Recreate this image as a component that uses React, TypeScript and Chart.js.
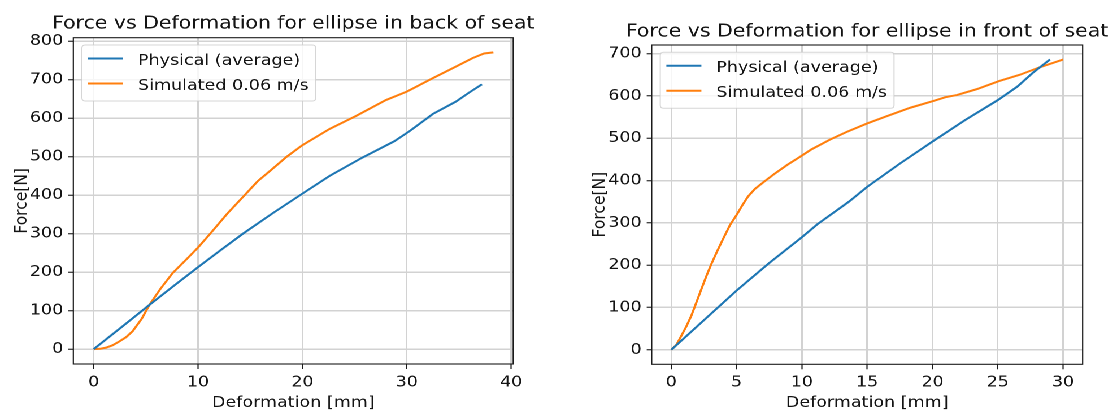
import React, { useEffect, useRef } from "react";
import { Chart, registerables } from "chart.js";

Chart.register(...registerables);

// ---- Data: back-of-seat ellipse ----
const backPhysicalDeform = [0, 2.7, 5.34, 7.7, 10, 12.2, 14.3, 17.2, 20, 22.6, 25.7, 28.8, 30.25, 32.5, 34.7, 36, 37.2];
const backPhysicalForce = [0, 58, 115, 165, 213, 258, 300, 354, 404, 450, 497, 540, 566, 611, 643, 667, 688];
const backSimDeform = [0, 0.6, 1.18, 1.8, 2.46, 3.1, 3.74, 4.6, 5.34, 6.4, 7.57, 8.8, 10, 11.1, 12.8, 14.6, 15.7, 16.9, 18.5, 20, 22.6, 25.15, 28, 30, 32.5, 34.7, 36.3, 37.4, 38.3];
const backSimForce = [0, 1, 4, 10, 20, 31, 47, 79, 115, 157, 198, 231, 264, 298, 352, 404, 436, 463, 500, 530, 572, 606, 647, 669, 704, 734, 756, 768, 771];

// ---- Data: front-of-seat ellipse ----
const frontPhysicalDeform = [0, 2.5, 5, 7.5, 10, 11.2, 13.6, 15, 17.5, 20, 22.5, 25, 26.5, 27.7, 29];
const frontPhysicalForce = [0, 70, 140, 205, 266, 297, 350, 385, 440, 492, 543, 590, 622, 655, 686];
const frontSimDeform = [0, 0.4, 0.77, 1.15, 1.53, 1.9, 2.3, 2.7, 3.06, 3.5, 3.95, 4.5, 5.03, 5.45, 5.87, 6.4, 7.14, 8, 8.93, 9.8, 10.7, 12.17, 13.44, 15, 16.5, 18.3, 20.08, 21, 21.86, 23.4, 25.1, 26.7, 28.24, 30];
const frontSimForce = [0, 12, 33, 55, 80, 110, 143, 175, 202, 232, 261, 295, 320, 342, 362, 380, 398, 418, 438, 455, 473, 497, 515, 535, 552, 572, 588, 597, 602, 616, 635, 650, 668, 686];

// ---- Labels and ticks ----
const seriesLabels = ["Physical (average)", "Simulated 0.06 m/s"];
const seriesColors = ["#1f77b4", "#ff7f0e"];
const xAxisLabel = "Deformation [mm]";
const yAxisLabel = "Force[N]";
const backTitle = "Force vs Deformation for ellipse in back of seat";
const frontTitle = "Force vs Deformation for ellipse in front of seat";
const backXTicks = [0, 10, 20, 30, 40];
const backYTicks = [0, 100, 200, 300, 400, 500, 600, 700, 800];
const frontXTicks = [0, 5, 10, 15, 20, 25, 30];
const frontYTicks = [0, 100, 200, 300, 400, 500, 600, 700];

const FONT = "'DejaVu Sans', 'Liberation Sans', sans-serif";
const BASE = 15.5;
const TITLE_SIZE = 18.1;
const TEXT = "#141414";
const STRETCH = 1.13;
const HEIGHT = 412;

type Panel = {
  title: string;
  width: number;
  plotLeft: number;
  plotRight: number;
  plotTop: number;
  plotBottom: number;
  titleBaseline: number;
  xMin: number;
  xMax: number;
  yMin: number;
  yMax: number;
  xTicks: number[];
  yTicks: number[];
  physX: number[];
  physY: number[];
  simX: number[];
  simY: number[];
};

const backPanel: Panel = {
  title: backTitle,
  width: 497,
  plotLeft: 64.9,
  plotRight: 454.2,
  plotTop: 37.7,
  plotBottom: 364,
  titleBaseline: 28.3,
  xMin: -1.95,
  xMax: 40.2,
  yMin: -38.5,
  yMax: 809,
  xTicks: backXTicks,
  yTicks: backYTicks,
  physX: backPhysicalDeform,
  physY: backPhysicalForce,
  simX: backSimDeform,
  simY: backSimForce,
};

const frontPanel: Panel = {
  title: frontTitle,
  width: 485,
  plotLeft: 79.7,
  plotRight: 461.1,
  plotTop: 45,
  plotBottom: 364.3,
  titleBaseline: 36.7,
  xMin: -1.5,
  xMax: 31.5,
  yMin: -34.3,
  yMax: 720.3,
  xTicks: frontXTicks,
  yTicks: frontYTicks,
  physX: frontPhysicalDeform,
  physY: frontPhysicalForce,
  simX: frontSimDeform,
  simY: frontSimForce,
};

const zip = (xs: number[], ys: number[]) => xs.map((x, i) => ({ x, y: ys[i] }));

function roundRect(ctx: CanvasRenderingContext2D, x: number, y: number, w: number, h: number, r: number) {
  ctx.beginPath();
  ctx.moveTo(x + r, y);
  ctx.lineTo(x + w - r, y);
  ctx.quadraticCurveTo(x + w, y, x + w, y + r);
  ctx.lineTo(x + w, y + h - r);
  ctx.quadraticCurveTo(x + w, y + h, x + w - r, y + h);
  ctx.lineTo(x + r, y + h);
  ctx.quadraticCurveTo(x, y + h, x, y + h - r);
  ctx.lineTo(x, y + r);
  ctx.quadraticCurveTo(x, y, x + r, y);
  ctx.closePath();
}

// Frame, title, axis titles and the upper-left legend box
const decorations = (panel: Panel) => ({
  id: "decorations",
  afterDraw(chart: Chart) {
    const { ctx, chartArea: a } = chart;
    ctx.save();

    ctx.strokeStyle = "#1a1a1a";
    ctx.lineWidth = 1.1;
    ctx.strokeRect(a.left, a.top, a.right - a.left, a.bottom - a.top);

    ctx.fillStyle = TEXT;
    ctx.textAlign = "center";
    ctx.textBaseline = "alphabetic";
    ctx.font = `${TITLE_SIZE}px ${FONT}`;
    ctx.fillText(panel.title, (a.left + a.right) / 2, panel.titleBaseline);

    ctx.font = `${BASE}px ${FONT}`;
    ctx.fillText(xAxisLabel, (a.left + a.right) / 2, 407);

    ctx.save();
    ctx.translate(a.left - 41.6, (a.top + a.bottom) / 2);
    ctx.rotate(-Math.PI / 2);
    ctx.fillText(yAxisLabel, 0, 0);
    ctx.restore();

    // legend
    const pad = BASE * 0.4;
    const handle = BASE * 2;
    const gap = BASE * 0.8;
    const textW = Math.max(...seriesLabels.map((s) => ctx.measureText(s).width));
    const bx = a.left + 7.6;
    const by = a.top + 7.3;
    const bw = pad + handle + gap + textW + pad;
    const bh = 56;
    roundRect(ctx, bx, by, bw, bh, 3);
    ctx.fillStyle = "rgba(255,255,255,0.8)";
    ctx.fill();
    ctx.strokeStyle = "rgba(204,204,204,0.8)";
    ctx.lineWidth = 1;
    ctx.stroke();

    const rows = [by + 13.5, by + 38.5];
    seriesLabels.forEach((label, i) => {
      ctx.strokeStyle = seriesColors[i];
      ctx.lineWidth = 2;
      ctx.beginPath();
      ctx.moveTo(bx + pad - 0.8, rows[i]);
      ctx.lineTo(bx + pad - 0.8 + handle, rows[i]);
      ctx.stroke();
      ctx.fillStyle = TEXT;
      ctx.textAlign = "left";
      ctx.fillText(label, bx + pad + handle + gap, rows[i] + 6.3);
    });

    ctx.restore();
  },
});

function PanelChart({ panel }: { panel: Panel }) {
  const ref = useRef<HTMLCanvasElement | null>(null);

  useEffect(() => {
    if (!ref.current) return;
    const gridColor = "#d2d2d2";
    const tickFont = { family: FONT, size: BASE };
    const chart = new Chart(ref.current, {
      type: "scatter",
      data: {
        datasets: [
          {
            label: seriesLabels[0],
            data: zip(panel.physX, panel.physY),
            showLine: true,
            borderColor: seriesColors[0],
            backgroundColor: seriesColors[0],
            borderWidth: 2,
            pointRadius: 0,
            tension: 0,
          },
          {
            label: seriesLabels[1],
            data: zip(panel.simX, panel.simY),
            showLine: true,
            borderColor: seriesColors[1],
            backgroundColor: seriesColors[1],
            borderWidth: 2,
            pointRadius: 0,
            tension: 0,
          },
        ],
      },
      options: {
        animation: false,
        responsive: false,
        devicePixelRatio: 2,
        events: [],
        layout: {
          padding: { left: 0, top: panel.plotTop, right: panel.width - panel.plotRight, bottom: 0 },
        },
        plugins: {
          legend: { display: false },
          title: { display: false },
          tooltip: { enabled: false },
        },
        scales: {
          x: {
            type: "linear",
            min: panel.xMin,
            max: panel.xMax,
            afterBuildTicks: (s: any) => {
              s.ticks = panel.xTicks.map((v) => ({ value: v }));
            },
            afterFit: (s: any) => {
              s.height = HEIGHT - panel.plotBottom;
            },
            border: { display: false },
            grid: {
              color: gridColor,
              lineWidth: 1.5,
              drawTicks: true,
              tickLength: 5,
              tickColor: "#1a1a1a",
              tickWidth: 1.1,
            },
            ticks: { font: tickFont, color: TEXT, padding: 4, maxRotation: 0, autoSkip: false },
          },
          y: {
            type: "linear",
            min: panel.yMin,
            max: panel.yMax,
            afterBuildTicks: (s: any) => {
              s.ticks = panel.yTicks.map((v) => ({ value: v }));
            },
            afterFit: (s: any) => {
              s.width = panel.plotLeft;
            },
            border: { display: false },
            grid: {
              color: gridColor,
              lineWidth: 1.5,
              drawTicks: true,
              tickLength: 4.4,
              tickColor: "#1a1a1a",
              tickWidth: 1.1,
            },
            ticks: { font: tickFont, color: TEXT, padding: 4.5, autoSkip: false },
          },
        },
      },
      plugins: [decorations(panel)],
    });
    return () => chart.destroy();
  }, [panel]);

  return (
    <div style={{ width: panel.width, height: HEIGHT, flex: "none" }}>
      <canvas ref={ref} width={panel.width} height={HEIGHT} style={{ display: "block" }} />
    </div>
  );
}

export default function App() {
  return (
    <div
      style={{
        position: "absolute",
        left: 0,
        top: 0,
        width: backPanel.width + frontPanel.width,
        height: HEIGHT,
        display: "flex",
        background: "#ffffff",
        transform: `scaleX(${STRETCH})`,
        transformOrigin: "0 0",
      }}
    >
      <PanelChart panel={backPanel} />
      <PanelChart panel={frontPanel} />
    </div>
  );
}
